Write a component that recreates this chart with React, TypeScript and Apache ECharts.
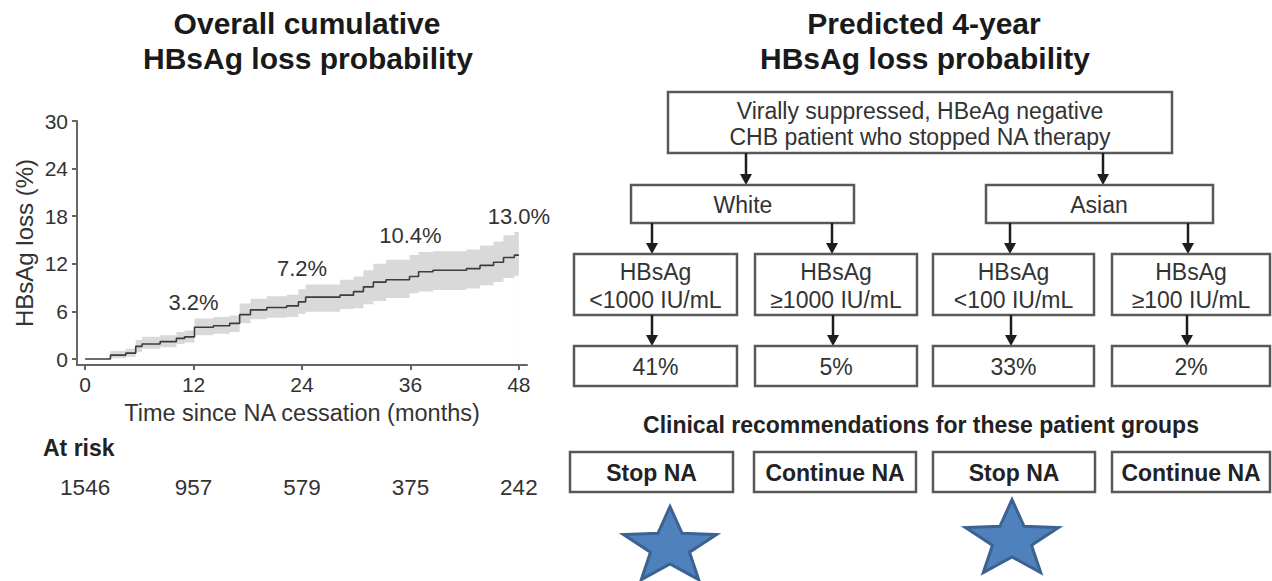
import React, { useEffect, useRef } from "react";
import * as echarts from "echarts";

// ---------- data (left panel) ----------
const months = [0, 2.8, 4.5, 5.6, 6.3, 8.3, 10.1, 11.0, 12.1, 14.2, 16.0, 17.1, 18.3, 20.1, 22.3, 23.6, 24.4, 28.2, 29.7, 30.8, 31.9, 33.3, 35.9, 36.9, 38.5, 42.2, 43.7, 45.2, 46.3, 47.5, 48.0];
const estimate = [0, 0.5, 0.75, 1.6, 1.9, 2.2, 2.6, 2.8, 4.0, 4.2, 4.5, 5.6, 6.2, 6.5, 6.7, 7.2, 7.8, 8.05, 8.5, 9.1, 9.7, 10.0, 10.4, 11.0, 11.2, 11.4, 11.8, 12.2, 12.8, 13.1, 13.1];
const lower = [0, 0.1, 0.3, 0.9, 1.3, 1.5, 1.9, 2.1, 3.0, 3.2, 3.4, 4.5, 5.0, 5.2, 5.3, 5.7, 5.95, 6.3, 6.4, 6.9, 7.3, 7.7, 8.3, 8.5, 8.7, 8.9, 9.3, 9.7, 10.2, 10.5, 10.5];
const upper = [0, 1.0, 1.3, 2.4, 2.8, 3.0, 3.4, 3.6, 5.1, 5.3, 5.5, 7.0, 7.6, 7.9, 8.1, 8.8, 9.4, 10.0, 10.4, 11.2, 12.0, 12.5, 13.1, 13.5, 13.6, 13.8, 14.3, 14.8, 15.6, 16.0, 16.0];

const xTicks = [0, 12, 24, 36, 48];
const yTicks = [0, 6, 12, 18, 24, 30];
const annotMonths = [12, 24, 36, 48];
const annotValues = [3.2, 7.2, 10.4, 13.0];
const atRiskMonths = [0, 12, 24, 36, 48];
const atRisk = [1546, 957, 579, 375, 242];

// ---------- data (right panel) ----------
const rootLines = ["Virally suppressed, HBeAg negative", "CHB patient who stopped NA therapy"];
const groups = ["White", "Asian"];
const thresholds = ["<1000 IU/mL", "\u22651000 IU/mL", "<100 IU/mL", "\u2265100 IU/mL"];
const probabilities = ["41%", "5%", "33%", "2%"];
const recommendations = ["Stop NA", "Continue NA", "Stop NA", "Continue NA"];
const starred = [true, false, true, false];

const FONT = '"Liberation Sans", Arial, Helvetica, sans-serif';
const TXT = "#333333";

function bandTop(m: number) {
  let best = 0;
  months.forEach((t, i) => {
    if (t >= m - 1 && t <= m + 1) best = Math.max(best, upper[i]);
  });
  return best;
}

function txt(x: number, y: number, s: string, size: number, bold = false, align = "center", fill = TXT) {
  return {
    type: "text",
    x,
    y,
    silent: true,
    style: {
      text: s,
      fontSize: size,
      fontFamily: FONT,
      fontWeight: bold ? "bold" : "normal",
      fill,
      textAlign: align,
      textVerticalAlign: "middle",
      align,
      verticalAlign: "middle",
    },
  };
}

function box(x1: number, y1: number, x2: number, y2: number) {
  return {
    type: "rect",
    silent: true,
    shape: { x: x1, y: y1, width: x2 - x1, height: y2 - y1 },
    style: { fill: "#ffffff", stroke: "#595959", lineWidth: 2.5 },
  };
}

function arrow(x: number, y1: number, y2: number) {
  return [
    {
      type: "line",
      silent: true,
      shape: { x1: x, y1, x2: x, y2: y2 - 8 },
      style: { stroke: "#1e1e1e", lineWidth: 2.5 },
    },
    {
      type: "polygon",
      silent: true,
      shape: { points: [[x - 6, y2 - 11], [x + 6, y2 - 11], [x, y2]] },
      style: { fill: "#1e1e1e" },
    },
  ];
}

function star(cx: number, cy: number, R: number, sx: number) {
  const pts: number[][] = [];
  const r = R * 0.42;
  for (let i = 0; i < 10; i++) {
    const rad = i % 2 === 0 ? R : r;
    const a = (Math.PI / 5) * i;
    pts.push([cx + rad * Math.sin(a) * sx, cy - rad * Math.cos(a)]);
  }
  return {
    type: "polygon",
    silent: true,
    shape: { points: pts },
    style: { fill: "#4f81bd", stroke: "#3b6291", lineWidth: 3, lineJoin: "miter" },
  };
}

function buildOption() {
  const colX = [[574, 737], [755, 917], [933, 1094], [1112, 1270]];
  const recX = [[570, 733], [754, 916], [933, 1095], [1112, 1270]];
  const groupBoxes = [[631, 854], [986, 1213]];
  const groupTextX = [743, 1099];
  const rootArrowX = [746, 1103];
  const groupArrowX = [652, 832, 1010, 1188];
  const probArrowX = [652, 833, 1011, 1187];
  const starPos = [[670, 547], [1012, 540]];

  const g: any[] = [];
  // titles
  g.push(txt(307, 23, "Overall cumulative", 30, true, "center", "#1a1a1a"));
  g.push(txt(308, 58, "HBsAg loss probability", 30, true, "center", "#1a1a1a"));
  g.push(txt(924, 23, "Predicted 4-year", 30, true, "center", "#1a1a1a"));
  g.push(txt(925, 58, "HBsAg loss probability", 30, true, "center", "#1a1a1a"));
  // at risk header
  g.push(txt(43, 448, "At risk", 23, true, "left", "#222"));

  // root box
  g.push(box(668, 92, 1172, 153));
  g.push(txt(920, 111, rootLines[0], 23));
  g.push(txt(920, 137, rootLines[1], 23));
  rootArrowX.forEach((x) => g.push(...arrow(x, 153, 185)));
  // group boxes
  groups.forEach((name, i) => {
    g.push(box(groupBoxes[i][0], 185, groupBoxes[i][1], 223));
    g.push(txt(groupTextX[i], 205, name, 23));
  });
  groupArrowX.forEach((x) => g.push(...arrow(x, 223, 254)));
  // thresholds
  thresholds.forEach((t, i) => {
    const [a, b] = colX[i];
    g.push(box(a, 254, b, 315));
    g.push(txt((a + b) / 2, 272, "HBsAg", 23));
    g.push(txt((a + b) / 2, 300, t, 23));
  });
  probArrowX.forEach((x) => g.push(...arrow(x, 315, 346)));
  probabilities.forEach((p, i) => {
    const [a, b] = colX[i];
    g.push(box(a, 346, b, 386));
    g.push(txt((a + b) / 2, 367, p, 23));
  });
  // recommendations
  g.push(txt(921, 425, "Clinical recommendations for these patient groups", 23, true, "center", "#222"));
  recommendations.forEach((r, i) => {
    const [a, b] = recX[i];
    g.push(box(a, 452, b, 492));
    g.push(txt((a + b) / 2, 473, r, 23, true, "center", "#222"));
  });
  let s = 0;
  starred.forEach((on) => {
    if (on) {
      const [cx, cy] = starPos[s++];
      g.push(star(cx, cy, 40.4, 1.21));
    }
  });

  const axisColor = "#666666";

  return {
    animation: false,
    backgroundColor: "#ffffff",
    textStyle: { fontFamily: FONT },
    grid: [
      { left: 77, top: 121, width: 450, height: 244 },
      { left: 77, top: 470, width: 450, height: 1 },
    ],
    xAxis: [
      {
        type: "value",
        gridIndex: 0,
        min: -0.9,
        max: 48.9,
        axisLine: { show: true, onZero: false, lineStyle: { color: axisColor, width: 2 } },
        axisTick: { show: true, customValues: xTicks, length: 5, lineStyle: { color: axisColor, width: 2 } },
        axisLabel: { customValues: xTicks, fontSize: 21, color: TXT, margin: 9, fontFamily: FONT },
        splitLine: { show: false },
        name: "Time since NA cessation (months)",
        nameLocation: "middle",
        nameGap: 36,
        nameTextStyle: { fontSize: 23.5, color: TXT, fontFamily: FONT },
      },
      {
        type: "value",
        gridIndex: 1,
        min: -0.9,
        max: 48.9,
        axisLine: { show: false },
        axisTick: { show: false },
        splitLine: { show: false },
        axisLabel: {
          customValues: atRiskMonths,
          fontSize: 22.5,
          color: TXT,
          margin: 5,
          fontFamily: FONT,
          formatter: (v: number) => {
            const i = atRiskMonths.indexOf(v);
            return i >= 0 ? String(atRisk[i]) : "";
          },
        },
      },
    ],
    yAxis: [
      {
        type: "value",
        gridIndex: 0,
        min: -0.75,
        max: 30,
        axisLine: { show: true, onZero: false, lineStyle: { color: axisColor, width: 2 } },
        axisTick: { show: true, customValues: yTicks, length: 5, lineStyle: { color: axisColor, width: 2 } },
        axisLabel: { customValues: yTicks, fontSize: 21, color: TXT, margin: 9, fontFamily: FONT },
        splitLine: { show: false },
        name: "HBsAg loss (%)",
        nameLocation: "middle",
        nameGap: 41,
        nameTextStyle: { fontSize: 24, color: TXT, fontFamily: FONT },
      },
      { type: "value", gridIndex: 1, show: false, min: 0, max: 1 },
    ],
    series: [
      {
        type: "line",
        xAxisIndex: 0,
        yAxisIndex: 0,
        step: "end",
        symbol: "none",
        silent: true,
        z: 1,
        data: months.map((m, i) => [m, upper[i]]),
        lineStyle: { width: 0, opacity: 0 },
        areaStyle: { color: "#d9d9d9", opacity: 1 },
      },
      {
        type: "line",
        xAxisIndex: 0,
        yAxisIndex: 0,
        step: "end",
        symbol: "none",
        silent: true,
        z: 2,
        data: months.map((m, i) => [m, lower[i]]),
        lineStyle: { width: 0, opacity: 0 },
        areaStyle: { color: "#ffffff", opacity: 1 },
      },
      {
        type: "line",
        xAxisIndex: 0,
        yAxisIndex: 0,
        step: "end",
        symbol: "none",
        silent: true,
        z: 3,
        data: months.map((m, i) => [m, estimate[i]]),
        lineStyle: { color: "#3c3c3c", width: 1.6 },
      },
      {
        type: "scatter",
        xAxisIndex: 0,
        yAxisIndex: 0,
        symbolSize: 0,
        silent: true,
        z: 4,
        itemStyle: { opacity: 1 },
        data: annotMonths.map((m, i) => ({
          value: [m, bandTop(m)],
          label: { formatter: annotValues[i].toFixed(1) + "%" },
        })),
        label: {
          show: true,
          position: "top",
          distance: 5,
          fontSize: 22,
          color: "#333333",
          opacity: 1,
          fontFamily: FONT,
        },
      },
    ],
    graphic: { elements: g },
  };
}

export default function App() {
  const ref = useRef<HTMLDivElement>(null);
  useEffect(() => {
    if (!ref.current) return;
    const chart = echarts.init(ref.current, null, { renderer: "svg" });
    chart.setOption(buildOption() as any);
    return () => chart.dispose();
  }, []);
  return (
    <div
      ref={ref}
      style={{ position: "absolute", left: 0, top: 0, width: 1272, height: 581, background: "#ffffff" }}
    />
  );
}
